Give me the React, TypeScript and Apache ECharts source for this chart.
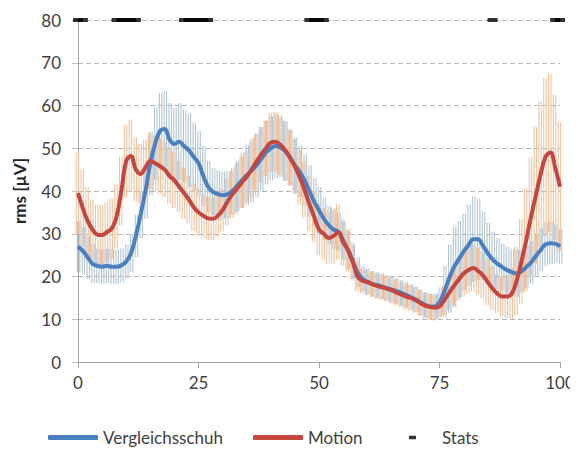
import React, { useEffect, useRef } from "react";
import * as echarts from "echarts";

// Normalised time (%), 0..100
const xValues: number[] = Array.from({ length: 101 }, (_, i) => i);

// Vergleichsschuh – mean rms [µV]
const blueMean: number[] = [
  27, 26, 24.5, 23, 22.5, 22.3, 22.5, 22.3, 22.3, 22.6,
  23.5, 25.5, 29.5, 34.5, 40, 46.5, 51, 54, 54.5, 52,
  51, 51.5, 50.5, 49.5, 48, 46.5, 43.5, 41, 39.8, 39.3,
  39, 39.2, 40, 41.2, 42.5, 43.7, 44.8, 46, 47.5, 49,
  50, 50.5, 50.2, 49.3, 47.8, 46, 44.5, 42.5, 40, 37.5,
  35.5, 33.5, 32, 31, 30.5, 28.5, 26.2, 23.5, 21, 19.5,
  18.8, 18.3, 18, 17.7, 17.3, 17, 16.6, 16.2, 15.7, 15.2,
  14.7, 14, 13.4, 13, 13, 14, 16.5, 19.5, 22.2, 24,
  25.8, 27.3, 28.7, 28.7, 27.2, 25.5, 24, 23, 22.2, 21.5,
  21, 20.7, 21.2, 22.2, 23.3, 24.8, 26.2, 27.5, 27.8, 27.7,
  27,
];

// Vergleichsschuh – standard deviation
const blueSd: number[] = [
  6, 5.5, 5, 4.5, 4, 4, 4, 4, 4, 4,
  4, 4.5, 5, 5.5, 6.5, 7.5, 8.5, 9, 9, 8.5,
  8.5, 9, 8.5, 8.5, 8, 7.5, 7, 6, 5.5, 5.5,
  5.5, 5.5, 5.5, 6, 6.5, 7, 7.5, 7.5, 7.5, 7.5,
  7.5, 7.5, 7, 7, 6.5, 6.5, 6, 6, 6, 5.5,
  5.5, 5, 4.5, 4.5, 4.5, 4.5, 4.5, 4, 3.5, 3,
  3, 3, 3, 3, 3, 3, 3, 3, 3, 3,
  3, 3, 3, 3, 3, 3.5, 6, 8, 9.5, 9,
  9, 9.5, 10, 9.5, 8, 7, 6.5, 6, 5.5, 5.5,
  5.5, 5.5, 5, 5, 5, 5, 5, 5, 5, 4.5,
  4,
];

// Motion – mean rms [µV]
const redMean: number[] = [
  39.5, 36, 33, 31, 29.8, 29.7, 30.4, 31.2, 34, 40,
  47, 48.2, 45, 44, 45.5, 47, 46.5, 45.8, 45, 43.5,
  42.5, 41, 39.5, 38, 36.2, 35, 34.2, 33.6, 33.5, 34.2,
  35.5, 37.5, 39.2, 40.5, 42, 43.3, 45, 46.8, 48.5, 50,
  51.3, 51.5, 50.8, 49.5, 47.8, 45.7, 43.2, 40.3, 37, 34,
  31, 30, 29, 29.5, 30.4, 28, 26.2, 23.5, 20, 19,
  18.7, 18.2, 17.8, 17.5, 17.2, 16.8, 16.3, 15.8, 15.3, 15,
  14.5, 13.8, 13.2, 12.9, 12.7, 13, 14.5, 16.2, 17.8, 19.3,
  20.7, 21.5, 22, 21.3, 20.3, 18.7, 17.2, 16, 15.3, 15.3,
  16, 19, 23.5, 28.5, 34, 39, 44, 48, 49, 45.5,
  41,
];

// Motion – standard deviation
const redSd: number[] = [
  9.5, 9, 8, 7, 7, 7, 7, 7, 7.5, 8,
  8.5, 8.5, 7.5, 7, 6.5, 6.5, 6.5, 6.5, 6.5, 6.5,
  6.5, 6, 6, 5.5, 5.5, 5.5, 5, 5, 5, 5,
  5, 5.5, 5.5, 6, 6, 6, 6.5, 6.5, 6.5, 6.5,
  7, 7, 7, 7, 6.5, 6.5, 6.5, 6.5, 6.5, 6,
  6, 6, 6, 6.5, 6.5, 5.5, 5, 4.5, 3.5, 3,
  3, 3, 3, 3, 3, 3, 3, 3, 3, 3,
  3, 3, 3, 3, 3, 3, 3.5, 4, 4.5, 5,
  5.5, 5.5, 5.5, 5.5, 5.5, 5.5, 5, 4.5, 4.5, 5,
  6, 8, 10, 12, 14, 16, 17, 18.5, 18.5, 17,
  15,
];

// Significant sections (Stats) drawn at y = 80
const statsX: number[] = [0, 1, 8, 9, 10, 11, 12, 22, 23, 24, 25, 26, 27, 48, 49, 50, 51, 86, 99, 100];
const statsLevel = 80;

const xTicks = { min: 0, max: 100, interval: 25 };
const yTicks = { min: 0, max: 80, interval: 10 };

const FONT = "Lato, 'Open Sans', sans-serif";
const TEXT = "#404040";

function errorBars(mean: number[], sd: number[]) {
  return xValues.map((x, i) => [x, mean[i] - sd[i], mean[i] + sd[i]]);
}

// each error bar is drawn as a pair of thin strokes (dense hatch look)
function barRenderer(color: string, offsets: number[]) {
  return (params: any, api: any) => {
    const x = api.value(0);
    const p1 = api.coord([x, api.value(1)]);
    const p2 = api.coord([x, api.value(2)]);
    return {
      type: "group",
      silent: true,
      children: offsets.map((o) => ({
        type: "line",
        shape: { x1: p1[0] + o, y1: p1[1], x2: p2[0] + o, y2: p2[1] },
        style: { stroke: color, lineWidth: 1.1 },
      })),
    };
  };
}

export default function App() {
  const ref = useRef<HTMLDivElement>(null);
  useEffect(() => {
    if (!ref.current) return;
    const chart = echarts.init(ref.current, undefined, { renderer: "svg" });
    const legendText = { fontFamily: FONT, fontSize: 17, color: TEXT };
    chart.setOption({
      animation: false,
      backgroundColor: "#ffffff",
      grid: { left: 78, right: 18, top: 20, bottom: 94, containLabel: false },
      xAxis: {
        type: "value",
        ...xTicks,
        axisLine: { show: true, lineStyle: { color: "#a6a6a6", width: 1 } },
        axisTick: { show: true, length: 6, lineStyle: { color: "#a6a6a6" } },
        axisLabel: { margin: 12, fontFamily: FONT, fontSize: 17, color: TEXT },
        splitLine: { show: false },
      },
      yAxis: {
        type: "value",
        ...yTicks,
        name: "rms [µV]",
        nameLocation: "middle",
        nameGap: 50,
        nameTextStyle: { fontFamily: FONT, fontSize: 17, fontWeight: "bold", color: "#262626" },
        axisLine: { show: true, lineStyle: { color: "#a6a6a6", width: 1 } },
        axisTick: { show: true, length: 6, lineStyle: { color: "#bfbfbf" } },
        axisLabel: { margin: 17, fontFamily: FONT, fontSize: 17, color: TEXT },
        splitLine: { show: true, lineStyle: { color: "#b4b4b4", type: [5, 3], width: 1 } },
      },
      legend: [
        {
          data: [{ name: "Vergleichsschuh", icon: "roundRect" }],
          left: 43, top: 424, itemWidth: 50, itemHeight: 5, itemGap: 0,
          textStyle: { ...legendText },
        },
        {
          data: [{ name: "Motion", icon: "roundRect" }],
          left: 248, top: 424, itemWidth: 50, itemHeight: 5, itemGap: 0,
          textStyle: { ...legendText },
        },
        {
          data: [{ name: "Stats", icon: "rect" }],
          left: 404, top: 424, itemWidth: 7, itemHeight: 3.5, itemGap: 0,
          textStyle: { ...legendText, padding: [0, 0, 0, 21] },
        },
      ],
      series: [
        {
          type: "custom",
          name: "Vergleichsschuh SD",
          data: errorBars(blueMean, blueSd),
          encode: { x: 0, y: [1, 2] },
          renderItem: barRenderer("#b3c6d5", [-0.6, 1.8]),
          z: 1,
          silent: true,
        },
        {
          type: "custom",
          name: "Motion SD",
          data: errorBars(redMean, redSd),
          encode: { x: 0, y: [1, 2] },
          renderItem: barRenderer("#f2c39f", [-1.8, 0.6]),
          z: 1,
          silent: true,
        },
        {
          type: "line",
          name: "Vergleichsschuh",
          data: xValues.map((x, i) => [x, blueMean[i]]),
          showSymbol: false,
          smooth: 0.4,
          color: "#4a80c2",
          lineStyle: { color: "#4a80c2", width: 4 },
          z: 3,
        },
        {
          type: "line",
          name: "Motion",
          data: xValues.map((x, i) => [x, redMean[i]]),
          showSymbol: false,
          smooth: 0.4,
          color: "#c4463f",
          lineStyle: { color: "#c4463f", width: 4 },
          z: 4,
        },
        {
          type: "scatter",
          name: "Stats",
          data: statsX.map((x) => [x, statsLevel]),
          symbol: "rect",
          symbolSize: [10, 4],
          color: "#000000",
          itemStyle: { color: "#000000" },
          z: 5,
        },
      ],
    });
    return () => chart.dispose();
  }, []);
  return <div ref={ref} style={{ width: 578, height: 456, margin: -8 }} />;
}
